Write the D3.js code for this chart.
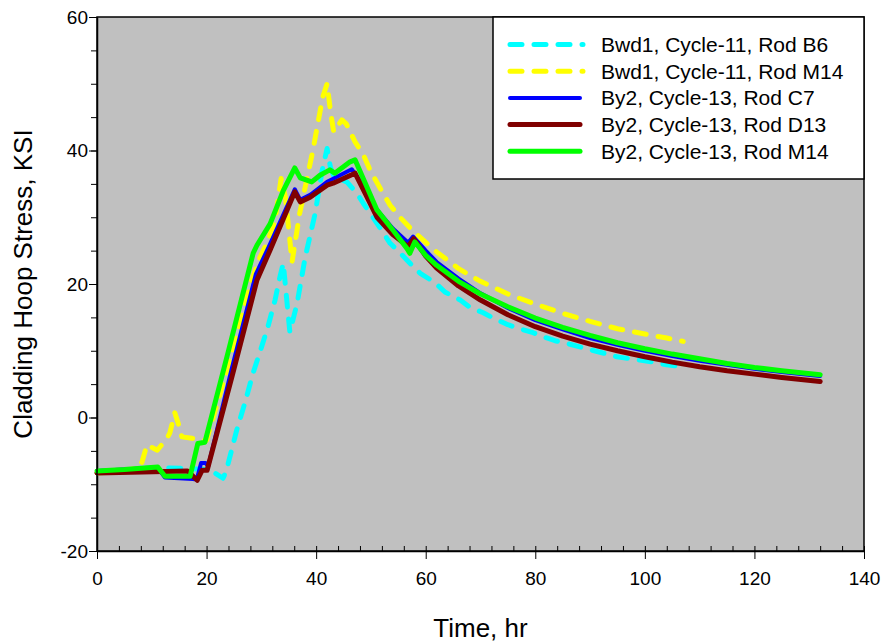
<!DOCTYPE html>
<html>
<head>
<meta charset="utf-8">
<script src="https://cdn.jsdelivr.net/npm/d3@7"></script>
<style>
  body { margin: 0; background: #fff; }
  text { font-family: "Liberation Sans", Arial, sans-serif; fill: #000; }
</style>
</head>
<body>
<div id="chart"></div>
<script>
// series data: [time hr, stress ksi]
var bwd1B6 = [[0,-8.3],[5,-8.0],[10,-7.5],[15.7,-7.6],[20,-7.8],[21.5,-8.3],[23,-9.1],[23.6,-8.0],[25.5,-1.9],[27,2.2],[28.5,6.7],[29.7,9.7],[31.2,13.6],[32.5,17.6],[33.4,21.1],[34,23.1],[35.2,12.8],[36.5,17],[38,24],[39.8,30.5],[41.1,37],[42,40.3],[42.6,37.5],[43.3,36.0],[45.6,35.3],[47.5,33.5],[48.6,32.1],[51.6,28.5],[53.5,26.1],[54.8,25.1],[57.5,22.8],[59,21.6],[61.7,20.2],[63.5,18.8],[66.3,17.6],[68.1,16.5],[70.5,15.7],[72.3,14.9],[75,13.9],[76.8,13.4],[79.6,12.7],[81.4,12.1],[83.6,11.5],[85.8,11.1],[88.5,10.5],[90.3,10.1],[93.1,9.5],[94.9,9.1],[97.3,8.8],[99.1,8.6],[102.2,8.2],[104,7.9],[106.8,7.6]];
var bwd1M14 = [[0,-8.3],[5,-8.0],[7.5,-7.5],[8.2,-6.7],[9.1,-4.1],[11,-4.9],[12.8,-3.1],[13.3,-2.3],[14.2,0.7],[14.8,-0.8],[15.5,-2.9],[17.3,-3.1],[19.3,-3.4],[20,-3.4],[24,8],[28,20],[29.7,23.9],[31,26.1],[32.5,29.5],[33.6,35.8],[34.4,33],[35.6,23.3],[37,30.6],[39.4,40],[41.2,48],[42,50],[42.6,46],[43.2,42.8],[44.7,44.6],[45.5,44],[47.1,41.3],[48.6,39.4],[50,36.8],[52.2,33.6],[53.5,31.8],[55.3,30.0],[57.5,28.1],[59.5,26.6],[62,24.8],[66,22.3],[70,20.4],[75,18.5],[80,17.0],[85,15.6],[90,14.4],[95,13.3],[100,12.5],[104,11.9],[107,11.4]];
var by2C7 = [[0,-8.0],[11.1,-7.5],[12.4,-9.0],[17.5,-9.2],[18.2,-9.3],[19.0,-6.8],[19.8,-6.8],[20.3,-7.3],[24.5,7],[29,21.5],[31.6,26],[36.1,34.2],[37.1,32.6],[39,33.4],[42,35.3],[43.2,35.8],[46.5,37.2],[49,34.3],[51.1,31.1],[54,28.3],[56.8,26.2],[57.7,27.1],[60,25.0],[62,23.3],[66,20.8],[70,18.6],[75,16.4],[80,14.6],[85,13.2],[90,11.9],[95,10.9],[100,10.0],[105,9.2],[110,8.5],[115,7.9],[120,7.3],[125,6.8],[132,6.2]];
var by2D13 = [[0,-8.3],[16.5,-8.0],[18.3,-9.4],[19.2,-7.9],[20.1,-7.9],[24.6,6],[29.2,20.6],[31.6,25.1],[36.1,33.8],[37.1,32.3],[38.9,33.0],[42,34.8],[43.1,35.1],[47.1,36.6],[49,33.5],[51.1,30.0],[54,27.4],[56.8,25.6],[57.8,26.8],[60,24.2],[62,22.4],[66,19.7],[70,17.6],[75,15.4],[80,13.6],[85,12.2],[90,11.0],[95,10.0],[100,9.1],[105,8.3],[110,7.6],[115,7.0],[120,6.5],[125,6.0],[132,5.4]];
var by2M14 = [[0,-8.0],[5,-7.8],[11.1,-7.4],[12.4,-8.8],[17,-8.8],[18.4,-3.9],[19.7,-3.7],[24,10],[28.5,24.6],[29.2,25.8],[31.6,29],[34,34],[36.1,37.4],[37.1,35.9],[39.2,35.3],[40.7,36.3],[42.5,37.1],[43.4,36.6],[46.2,38.3],[47.1,38.6],[51.1,31.1],[54,28.1],[56.6,25.3],[57.1,24.6],[58,26.3],[60,24.3],[62,22.8],[66,20.4],[70,18.5],[75,16.6],[80,14.9],[85,13.5],[90,12.3],[95,11.2],[100,10.3],[105,9.5],[110,8.8],[115,8.1],[120,7.5],[125,7.0],[132,6.4]];

var seriesNames = ["Bwd1, Cycle-11, Rod B6", "Bwd1, Cycle-11, Rod M14", "By2, Cycle-13, Rod C7", "By2, Cycle-13, Rod D13", "By2, Cycle-13, Rod M14"];
var seriesData = [bwd1B6, bwd1M14, by2C7, by2D13, by2M14];
var seriesColors = ["#00ffff", "#ffff00", "#0000ff", "#800000", "#00ff00"];
var seriesDashed = [true, true, false, false, false];

var xTicks = [0, 20, 40, 60, 80, 100, 120, 140];
var yTicks = [-20, 0, 20, 40, 60];

var W = 885, H = 643;
var plot = {left: 97, right: 864, top: 17, bottom: 551};

var svg = d3.select("#chart").append("svg")
    .attr("width", W)
    .attr("height", H);

var x = d3.scaleLinear().domain([0, 140]).range([plot.left, plot.right]);
var y = d3.scaleLinear().domain([-20, 60]).range([plot.bottom, plot.top]);

// plot background
svg.append("rect")
    .attr("x", plot.left).attr("y", plot.top)
    .attr("width", plot.right - plot.left)
    .attr("height", plot.bottom - plot.top)
    .attr("fill", "#c0c0c0");

// minor ticks on x, pointing in
svg.append("g")
    .attr("transform", "translate(0," + plot.bottom + ")")
    .call(d3.axisTop(x).tickValues(d3.range(0, 141, 4)).tickSize(5).tickFormat(""))
    .call(function(g) { g.select(".domain").remove(); });

// main x axis
var xAxis = svg.append("g")
    .attr("transform", "translate(0," + plot.bottom + ")")
    .call(d3.axisBottom(x).tickValues(xTicks).tickSize(8).tickPadding(13)
      .tickSizeOuter(0).tickFormat(function(d) { return String(d); }));
xAxis.selectAll("text").attr("font-size", 19).style("font-family", null);

// y axis: minor then major
svg.append("g")
    .attr("transform", "translate(" + plot.left + ",0)")
    .call(d3.axisLeft(y).tickValues(d3.range(-20, 61, 5)).tickSize(6).tickFormat(""))
    .call(function(g) { g.select(".domain").remove(); });
var yAxis = svg.append("g")
    .attr("transform", "translate(" + plot.left + ",0)")
    .call(d3.axisLeft(y).tickValues(yTicks).tickSize(8).tickPadding(1)
      .tickSizeOuter(0).tickFormat(function(d) { return String(d); }));
yAxis.selectAll("text").attr("font-size", 19).style("font-family", null);

svg.selectAll(".tick line").attr("stroke", "#000");
svg.selectAll(".domain").attr("stroke", "#000").attr("stroke-width", 1.5);

// series lines
var line = d3.line()
    .x(function(d) { return x(d[0]); })
    .y(function(d) { return y(d[1]); });

var lines = svg.append("g");
seriesData.forEach(function(s, i) {
  lines.append("path")
    .datum(s)
    .attr("d", line)
    .attr("fill", "none")
    .attr("stroke", seriesColors[i])
    .attr("stroke-width", i == 2 ? 4 : 5)
    .attr("stroke-linejoin", "round")
    .attr("stroke-linecap", "round")
    .attr("stroke-dasharray", seriesDashed[i] ? "12,12" : null);
});

// frame
svg.append("rect")
    .attr("x", plot.left).attr("y", plot.top)
    .attr("width", plot.right - plot.left)
    .attr("height", plot.bottom - plot.top)
    .attr("fill", "none")
    .attr("stroke", "#000")
    .attr("stroke-width", 1.5);

// legend
var leg = svg.append("g");
leg.append("rect")
    .attr("x", 493).attr("y", plot.top)
    .attr("width", plot.right - 493).attr("height", 162)
    .attr("fill", "#fff")
    .attr("stroke", "#000")
    .attr("stroke-width", 1.5);
seriesNames.forEach(function(name, i) {
  var ly = 44.5 + i * 26.7;
  leg.append("line")
    .attr("x1", 510).attr("x2", seriesDashed[i] ? 583 : 580)
    .attr("y1", ly).attr("y2", ly)
    .attr("stroke", seriesColors[i])
    .attr("stroke-width", i == 2 ? 4 : 5)
    .attr("stroke-linecap", "round")
    .attr("stroke-dasharray", seriesDashed[i] ? "12,12" : null);
  leg.append("text")
    .attr("x", 601).attr("y", ly)
    .attr("dy", "0.35em")
    .attr("font-size", 21)
    .text(name);
});

// axis titles
svg.append("text")
    .attr("x", (plot.left + plot.right) / 2)
    .attr("y", 637)
    .attr("text-anchor", "middle")
    .attr("font-size", 26)
    .text("Time, hr");

svg.append("text")
    .attr("transform", "translate(32," + ((plot.top + plot.bottom) / 2) + ") rotate(-90)")
    .attr("text-anchor", "middle")
    .attr("font-size", 26)
    .text("Cladding Hoop Stress, KSI");
</script>
</body>
</html>
